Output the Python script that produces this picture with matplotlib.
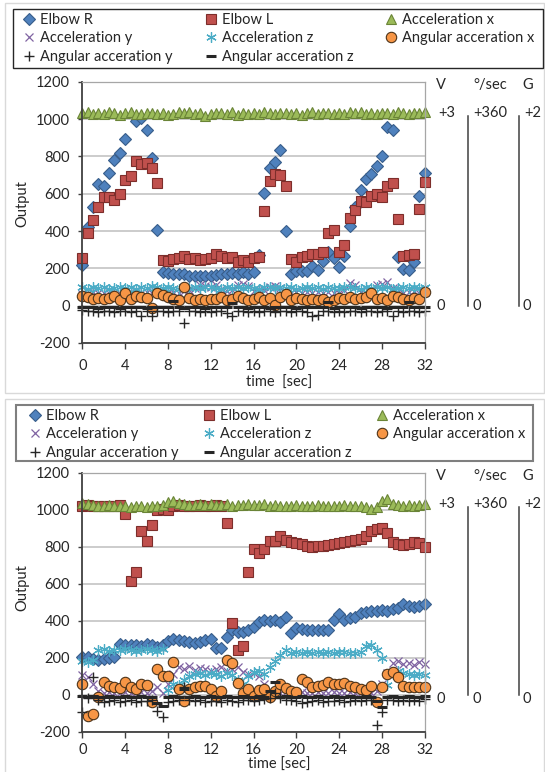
import numpy as np
import matplotlib
matplotlib.use("Agg")
import matplotlib.pyplot as plt
from matplotlib.patches import Rectangle
from matplotlib.lines import Line2D

plt.rcParams['font.family'] = ['Lato', 'DejaVu Sans']
plt.rcParams['axes.unicode_minus'] = False

nan = np.nan
W, H = 545, 772

# --- data --- #

time_sec = np.arange(0, 32.5, 0.5)
x_ticks = [0, 4, 8, 12, 16, 20, 24, 28, 32]
y_ticks = [-200, 0, 200, 400, 600, 800, 1000, 1200]

series_names = ["Elbow R", "Elbow L", "Acceleration x", "Acceleration y",
                "Acceleration z", "Angular acceration x", "Angular acceration y",
                "Angular acceration z"]

elbow_r_top = [220, 420, 527, 650, 643, 710, 780, 820, 893, nan,
               990, 1005, 943, 792, 405, 182, 175, 172, 170, 168,
               160, 158, 157, 158, 160, 162, 168, 172, 175, 170,
               178, 172, 180, 270, 605, 740, 772, 835, 400, 170,
               185, 188, 185, 215, 190, 240, 285, 258, 208, 268,
               425, 530, 620, 678, 705, 750, 800, 955, 940, 260,
               195, 190, 235, 585, 710]
elbow_l_top = [257, 387, 459, 527, 584, 580, 568, 600, 674, 697,
               773, 759, 762, 738, 655, 245, 240, 250, 258, 268,
               250, 255, 245, 250, 258, 275, 265, 255, 262, 235,
               245, 232, 258, 262, 505, 670, 705, 700, 640, 250,
               235, 260, 268, 275, 275, 285, 390, 405, 285, 325,
               470, 513, 563, 554, 590, 599, 584, 643, 655, 465,
               265, 270, 275, 520, 665]
acc_x_top = [1030, 1035, 1025, 1032, 1028, 1035, 1030, 1022, 1030, 1036,
             1028, 1025, 1030, 1034, 1027, 1030, 1022, 1028, 1035, 1030,
             1040, 1026, 1030, 1018, 1025, 1030, 1033, 1028, 1035, 1022,
             1030, 1027, 1032, 1028, 1036, 1030, 1025, 1030, 1034, 1028,
             1030, 1022, 1030, 1035, 1028, 1030, 1032, 1025, 1030, 1028,
             1036, 1030, 1040, 1027, 1030, 1025, 1033, 1030, 1028, 1035,
             1030, 1028, 1032, 1030, 1035]
acc_y_top = [65, 70, 72, 68, 70, 66, 72, 70, 68, 74,
             70, 68, 72, 70, 75, 70, 68, 72, 70, 78,
             85, 95, 110, 105, 100, 112, 90, 80, 85, 110,
             115, 105, 80, 72, 85, 100, 108, 95, 70, 68,
             72, 70, 75, 70, 72, 68, 74, 70, 70, 85,
             120, 110, 72, 70, 75, 110, 118, 125, 95, 75,
             70, 72, 80, 70, 72]
acc_z_top = [100, 92, 98, 95, 102, 90, 96, 100, 94, 98,
             92, 100, 96, 105, 98, 94, 100, 96, 92, 98,
             95, 100, 94, 98, 102, 96, 92, 100, 95, 98,
             94, 100, 96, 92, 98, 102, 95, 100, 94, 98,
             92, 96, 100, 95, 98, 92, 100, 96, 94, 98,
             102, 95, 92, 100, 96, 98, 94, 100, 92, 96,
             100, 94, 98, 95, 100]
ang_x_top = [50, 45, 35, 40, 35, 40, 50, 30, 70, 35,
             50, 45, 40, -15, 70, 55, 45, 35, 30, 98,
             40, 32, 35, 30, 38, 35, 45, 30, 38, 52,
             40, 30, 35, 45, 30, 40, 2, 45, 60, 30,
             40, 35, 30, 38, 30, 35, 20, 30, 40, 35,
             45, 38, 40, 45, 70, 35, 42, 30, 50, 45,
             35, 28, 40, 35, 72]
ang_y_top = [-25, -30, -28, -32, -30, -28, -35, -30, -28, -32,
             -30, -55, -30, -55, -28, -30, -35, -30, -28, -92,
             -30, -28, -32, -30, -35, -30, -28, -40, -55, -30,
             -28, -32, -30, -35, -28, -30, -32, -28, -30, -35,
             -28, -30, -32, -55, -52, -30, -28, -35, -30, -32,
             -28, -30, -35, -30, -28, -32, -30, -28, -55, -30,
             -32, -28, -30, -35, -30]
ang_z_top = [-5, -8, -6, -10, -8, -5, -8, -10, -6, -8,
             -5, -8, -10, -6, -8, -5, -8, 25, -6, -10,
             -8, -5, -8, -10, -6, -8, -5, -8, 15, -6,
             -8, -10, -5, -8, -6, -10, -8, -5, -8, -6,
             -10, -8, -5, -8, -6, -8, 22, -10, -6, -8,
             -5, -8, -10, -6, -8, -5, -8, -10, -6, -8,
             -5, 18, -8, -6, -8]

elbow_r_bot = [205, 205, 195, 190, 195, 200, 202, 275, 270, 268,
               268, 262, 272, 268, 260, 270, 292, 300, 298, 290,
               283, 280, 285, 295, 300, 255, 250, 310, 348, 338,
               340, 352, 368, 395, 402, 400, 402, 395, 420, 335,
               360, 355, 352, 350, 350, 348, 352, 405, 438, 405,
               415, 420, 440, 448, 455, 452, 458, 455, 462, 470,
               488, 478, 475, 478, 490]
elbow_l_bot = [1020, 1025, 1022, 1020, 1018, 1022, 1020, 1025, 975, 616,
               663, 886, 829, 919, 1000, 1005, 998, 1020, 1025, 1020,
               1022, 1018, 1025, 1020, 1022, 1025, 1020, 930, 385, 240,
               265, 665, 790, 765, 785, 830, 832, 858, 836, 828,
               820, 814, 805, 800, 802, 805, 808, 814, 818, 823,
               830, 835, 842, 858, 886, 895, 900, 872, 823, 814,
               810, 815, 823, 818, 798]
acc_x_bot = [1035, 1030, 1025, 1022, 1020, 1025, 1022, 1018, 1020, 1015,
             1018, 1020, 1015, 1022, 1020, 1025, 1040, 1045, 1035, 1030,
             1025, 1028, 1030, 1025, 1030, 1028, 1025, 1030, 1022, 1025,
             1028, 1030, 1025, 1028, 1030, 1022, 1025, 1020, 1018, 1022,
             1025, 1020, 1018, 1022, 1025, 1020, 1022, 1018, 1020, 1025,
             1022, 1020, 1018, 1015, 1005, 1015, 1045, 1060, 1030, 1025,
             1020, 1028, 1022, 1025, 1030]
acc_y_bot = [105, 95, 60, 20, 10, 12, 8, 10, 12, 8,
             10, 12, 8, 20, 40, 10, 60, 110, 150, 140,
             155, 135, 145, 140, 130, 140, 150, 130, 140, 150,
             125, 110, 120, 100, 60, 20, 10, 8, 12, 10,
             8, 12, 10, 8, 12, 10, 8, 12, 10, 8,
             12, 10, 8, 12, 10, 20, 60, 120, 170, 180,
             165, 170, 160, 175, 165]
acc_z_bot = [180, 175, 185, 240, 245, 238, 242, 240, 245, 240,
             238, 242, 245, 240, 238, 245, 25, 60, 50, 80,
             100, 110, 120, 105, 115, 110, 100, 115, 105, 80,
             60, 100, 125, 130, 110, 150, 180, 215, 240, 228,
             232, 225, 230, 228, 232, 225, 230, 228, 230, 232,
             228, 225, 230, 262, 268, 240, 200, 55, 110, 130,
             115, 110, 105, 112, 108]
ang_x_bot = [60, -113, -105, -15, 67, 45, 43, 35, 67, 40,
             31, 58, 52, -38, 139, 103, 103, 175, 31, -32,
             31, 40, 49, 45, 31, -5, 20, 190, 172, 65,
             10, 31, -5, 25, 31, -15, 20, 58, 35, 20,
             15, 85, 67, 40, 49, 55, 67, 60, 58, 62,
             45, 40, 31, 25, 49, -40, 40, 112, 121, 94,
             49, 40, 44, 44, 44]
ang_y_bot = [-91, -20, 95, -30, -40, -35, -30, -38, -35, -30,
             -38, -32, -35, -30, -90, -118, -40, -35, -30, 40,
             -30, -35, -30, -38, -32, -35, -40, -30, -35, -38,
             -30, -28, -32, -30, -25, -20, 10, -20, -28, -30,
             -35, -45, -38, -35, -30, -38, -32, -35, -30, -38,
             -32, -30, -35, -28, -30, -166, -95, -28, -30, -35,
             -30, -32, -30, -35, -25]
ang_z_bot = [-5, -10, -8, -12, -10, -8, -12, -10, -8, -12,
             -10, -8, -12, -10, -45, -60, -10, -8, -12, 30,
             -10, -8, -12, -10, -8, -12, -10, -8, -12, -10,
             -8, -12, -10, -8, -12, 20, 70, -10, -8, -12,
             -10, -8, -12, -10, -8, -12, -10, -8, -12, -10,
             -8, -12, -10, -8, -12, -35, -65, -10, -8, -12,
             -10, -8, -12, -10, -8]

top_values = [elbow_r_top, elbow_l_top, acc_x_top, acc_y_top,
              acc_z_top, ang_x_top, ang_y_top, ang_z_top]
bot_values = [elbow_r_bot, elbow_l_bot, acc_x_bot, acc_y_bot,
              acc_z_bot, ang_x_bot, ang_y_bot, ang_z_bot]

for v in top_values + bot_values:
    assert len(v) == len(time_sec), len(v)

# --- styles --- #

styles = [
    dict(marker="D", ms=6.5, mfc="#4F81BD", mec="#385D8A", mew=0.8),
    dict(marker="s", ms=7, mfc="#C0504D", mec="#7D2E2B", mew=0.8),
    dict(marker="^", ms=6.5, mfc="#9BBB59", mec="#6A8437", mew=0.8),
    dict(marker="x", ms=6, mfc="#8064A2", mec="#8064A2", mew=0.9),
    dict(marker=(6, 2, 0), ms=7.5, mfc="#4BACC6", mec="#4BACC6", mew=0.9),
    dict(marker="o", ms=7.5, mfc="#F79646", mec="#4d3319", mew=0.8),
    dict(marker="+", ms=7.5, mfc="#262626", mec="#262626", mew=1.0),
    dict(marker="_", ms=7.5, mfc="#262626", mec="#262626", mew=2.2),
]

TXT = "#262626"
X0_PX, X1_PX = 82.4, 424.7


def ax_x(px):
    return (px - X0_PX) / (X1_PX - X0_PX)


def add_frame(fig, x0, y0, x1, y1, color, lw):
    fig.add_artist(Rectangle((x0 / W, 1 - y1 / H), (x1 - x0) / W, (y1 - y0) / H,
                             transform=fig.transFigure, fill=False,
                             edgecolor=color, linewidth=lw))


def draw_panel(fig, top_px, bottom_px, values, xlabel, xlabel_y, xpad,
               ylabel_y, zero_y, leg):

    ax = fig.add_axes([X0_PX / W, 1 - bottom_px / H,
                       (X1_PX - X0_PX) / W, (bottom_px - top_px) / H])

    for vals, st in zip(values, styles):
        ax.plot(time_sec, vals, linestyle="none", clip_on=False, **st)

    ax.set_xlim(0, 32)
    ax.set_ylim(-200, 1200)
    ax.set_xticks(x_ticks)
    ax.set_yticks(y_ticks)
    ax.yaxis.grid(True, color="#BFBFBF", linewidth=1.1)
    ax.set_axisbelow(True)

    for s in ("left", "bottom"):
        ax.spines[s].set_color("#404040")
        ax.spines[s].set_linewidth(1.3)
    for s in ("top", "right"):
        ax.spines[s].set_color("#A6A6A6")
        ax.spines[s].set_linewidth(0.9)

    ax.tick_params(axis="y", direction="out", length=3, width=1, pad=6,
                   colors="#404040", labelcolor=TXT, labelsize=10.5)
    ax.tick_params(axis="x", direction="out", length=4.5, width=1, pad=xpad,
                   colors="#404040", labelcolor=TXT, labelsize=10.5)

    ax.set_ylabel("Output", fontsize=10.5, color=TXT)
    ax.yaxis.set_label_coords(ax_x(29), ylabel_y)
    ax.text(0.575, xlabel_y, xlabel, transform=ax.transAxes, ha="center",
            va="center", fontsize=10.5, color=TXT)

    # secondary scale annotations
    tr = ax.get_yaxis_transform()
    for px, lab in ((441, "V"), (490, "°/sec"), (528, "G")):
        ax.text(ax_x(px), 1180, lab, transform=tr, ha="center", va="center",
                fontsize=10.5, color=TXT, clip_on=False)
    for px, lab in ((447, "+3"), (490, "+360"), (533, "+2")):
        ax.text(ax_x(px), 1030, lab, transform=tr, ha="center", va="center",
                fontsize=10.5, color=TXT, clip_on=False)
    for px, lab in ((441, "0"), (477, "0"), (527, "0")):
        ax.text(ax_x(px), zero_y, lab, transform=tr, ha="center", va="center",
                fontsize=10.5, color=TXT, clip_on=False)
    for px in (468, 518.5):
        ax.plot([ax_x(px), ax_x(px)], [1015, 0], transform=tr, color="#404040",
                linewidth=1.1, clip_on=False)

    handles = [Line2D([], [], linestyle="none", **st) for st in styles]
    order = [0, 3, 6, 1, 4, 7, 2, 5]
    lx, ly, lw_, lh = leg
    fig.legend([handles[i] for i in order], [series_names[i] for i in order],
               ncol=3, loc="upper left", mode="expand",
               bbox_to_anchor=(lx / W, 1 - (ly + lh) / H, lw_ / W, lh / H),
               bbox_transform=fig.transFigure, frameon=False,
               borderpad=0.25, borderaxespad=0, handlelength=0.8,
               handletextpad=0.35, labelspacing=0.32, columnspacing=0.5,
               fontsize=10.5, labelcolor=TXT)
    return ax


fig = plt.figure(figsize=(W / 100, H / 100), dpi=100, facecolor="white")

# outer chart frames and legend boxes
add_frame(fig, 5, 3, 544, 393, "#D9D9D9", 1.0)
add_frame(fig, 5, 399, 544, 775, "#D9D9D9", 1.0)
add_frame(fig, 13, 9, 543, 68, "#262626", 1.0)
add_frame(fig, 16, 405, 533, 461, "#7F7F7F", 1.5)

draw_panel(fig, 81.7, 343.0, top_values, "time  [sec]", -0.153, 7, 0.534, 0,
           (20, 9, 518, 58))
draw_panel(fig, 472.7, 731.7, bot_values, "time [sec]", -0.129, 3.5, 0.555, -25,
           (26, 405, 503, 56))

fig.savefig("out.png", dpi=100, facecolor="white")
